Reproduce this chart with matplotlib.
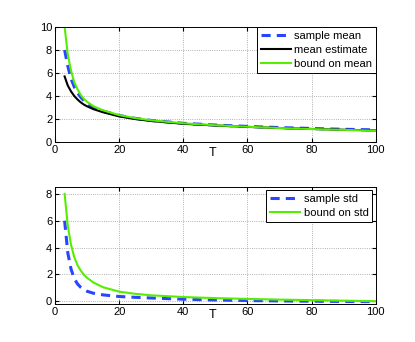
import matplotlib
matplotlib.use('Agg')
import matplotlib.pyplot as plt
import numpy as np

plt.rcParams['font.family'] = ['Liberation Sans', 'DejaVu Sans']

T = [3, 4, 5, 6, 7, 8, 9, 10, 12, 15, 20, 25, 30, 40, 50, 60, 70, 80, 90, 100]

# top panel
sample_mean   = [8.0, 6.6, 5.5, 4.8, 4.3, 3.9, 3.6, 3.35, 3.0, 2.68, 2.3, 2.05, 1.87, 1.62, 1.47, 1.35, 1.25, 1.17, 1.1, 1.05]
mean_estimate = [5.7, 4.9, 4.4, 4.0, 3.7, 3.45, 3.25, 3.1, 2.85, 2.58, 2.22, 1.99, 1.82, 1.58, 1.43, 1.31, 1.21, 1.13, 1.06, 1.0]
bound_mean    = [10.0, 7.6, 6.2, 5.2, 4.6, 4.1, 3.75, 3.5, 3.1, 2.75, 2.33, 2.07, 1.88, 1.62, 1.45, 1.32, 1.21, 1.12, 1.05, 0.98]

# bottom panel
sample_std = [6.0, 3.6, 2.4, 1.7, 1.3, 1.05, 0.88, 0.75, 0.6, 0.48, 0.36, 0.3, 0.25, 0.16, 0.1, 0.06, 0.03, 0.01, -0.01, -0.02]
bound_std  = [8.0, 5.6, 4.2, 3.3, 2.7, 2.3, 1.98, 1.75, 1.4, 1.05, 0.72, 0.56, 0.45, 0.32, 0.24, 0.18, 0.13, 0.09, 0.05, 0.01]

blue = '#2846ff'
green = '#55ee00'

fig = plt.figure(figsize=(4.15, 3.42), dpi=100)
ax1 = fig.add_axes([0.1325, 0.585, 0.773, 0.336])
ax2 = fig.add_axes([0.1325, 0.111, 0.773, 0.342])

ax1.plot(T, sample_mean, '--', color=blue, lw=2.2, dashes=(3, 2), label='sample mean')
ax1.plot(T, mean_estimate, '-', color='black', lw=1.5, label='mean estimate')
ax1.plot(T, bound_mean, '-', color=green, lw=1.5, label='bound on mean')
ax1.set_ylim(0, 10)
ax1.set_yticks([0, 2, 4, 6, 8, 10])

ax2.plot(T, sample_std, '--', color=blue, lw=2.2, dashes=(3, 2), label='sample std')
ax2.plot(T, bound_std, '-', color=green, lw=1.5, label='bound on std')
ax2.set_ylim(-0.2, 8.5)
ax2.set_yticks([0, 2, 4, 6, 8])

for ax, pad in ((ax1, 0.0), (ax2, 0.3)):
    ax.set_xlim(0, 100)
    ax.set_xticks([0, 20, 40, 60, 80, 100])
    ax.set_xlabel('T', fontsize=9, va='center')
    ax.xaxis.set_label_coords(0.49, -0.095)
    ax.grid(True, linestyle=':', color='#999999', lw=0.6)
    ax.tick_params(direction='in', labelsize=8, length=3, top=True, right=True, pad=2)
    for s in ax.spines.values():
        s.set_linewidth(0.7)
    leg = ax.legend(loc='upper right', fontsize=8, fancybox=False, framealpha=1,
                    edgecolor='black', borderpad=0.35, labelspacing=0.35,
                    handlelength=2.7, handletextpad=0.3, borderaxespad=pad)
    leg.get_frame().set_linewidth(0.7)

fig.savefig('out.png', dpi=100)
